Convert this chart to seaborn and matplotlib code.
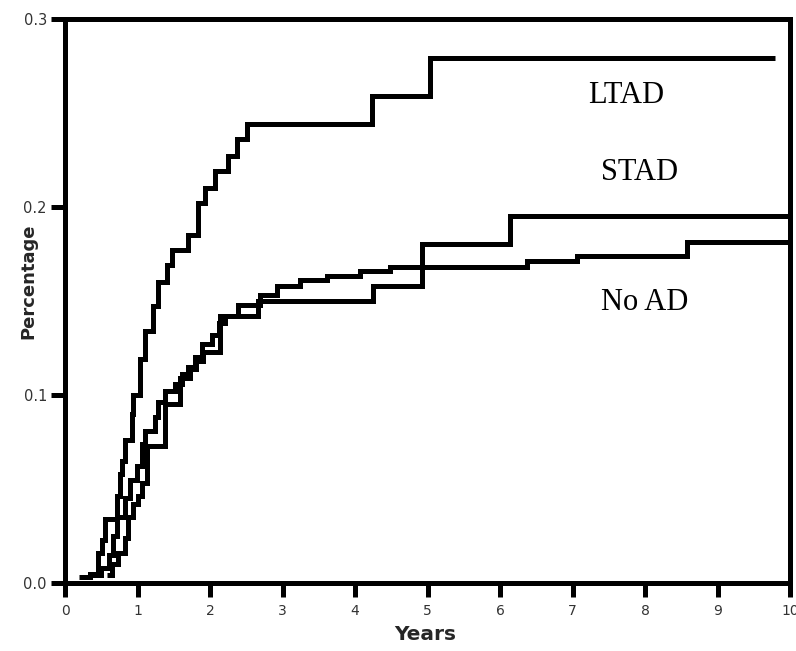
import matplotlib
matplotlib.use("Agg")
import matplotlib.pyplot as plt
import seaborn as sns
import pandas as pd

# ---- data ----
ltad_t = [0.19, 0.34, 0.46, 0.51, 0.55, 0.72, 0.76, 0.79, 0.83, 0.92, 0.94, 1.03, 1.10, 1.21, 1.28,
          1.41, 1.48, 1.70, 1.83, 1.93, 2.07, 2.25, 2.37, 2.51, 4.23, 5.03, 9.79]
ltad_p = [0.003, 0.005, 0.016, 0.023, 0.034, 0.046, 0.058, 0.065, 0.076, 0.090, 0.100, 0.119, 0.134,
          0.147, 0.160, 0.169, 0.177, 0.185, 0.202, 0.210, 0.219, 0.227, 0.236, 0.244, 0.259, 0.279, 0.279]

stad_t = [0.58, 0.65, 0.73, 0.83, 0.87, 0.94, 1.01, 1.06, 1.13, 1.38, 1.59, 1.72, 1.80, 1.90, 2.14,
          2.66, 4.25, 4.92, 6.14, 10.0]
stad_p = [0.004, 0.010, 0.016, 0.024, 0.035, 0.042, 0.046, 0.053, 0.073, 0.095, 0.109, 0.114, 0.118,
          0.123, 0.142, 0.150, 0.158, 0.180, 0.195, 0.195]

noad_t = [0.35, 0.50, 0.60, 0.66, 0.72, 0.83, 0.90, 0.99, 1.06, 1.10, 1.24, 1.28, 1.38, 1.52, 1.61,
          1.70, 1.79, 1.89, 2.03, 2.12, 2.20, 2.39, 2.69, 2.92, 3.24, 3.61, 4.07, 4.48, 6.37, 7.06,
          8.58, 10.0]
noad_p = [0.004, 0.008, 0.015, 0.025, 0.035, 0.045, 0.055, 0.062, 0.074, 0.081, 0.088, 0.096, 0.102,
          0.106, 0.111, 0.115, 0.120, 0.127, 0.132, 0.138, 0.142, 0.148, 0.153, 0.158, 0.161, 0.163,
          0.166, 0.168, 0.171, 0.174, 0.181, 0.181]

group_names = ["LTAD", "STAD", "No AD"]
label_x = [7.74, 7.93, 7.99]
label_y = [0.259, 0.218, 0.149]

x_ticks = list(range(0, 11))
y_ticks = [0.0, 0.1, 0.2, 0.3]
y_tick_labels = ["0.0", "0.1", "0.2", "0.3"]

df = pd.concat([
    pd.DataFrame({"group": "LTAD", "Years": ltad_t, "Percentage": ltad_p}),
    pd.DataFrame({"group": "STAD", "Years": stad_t, "Percentage": stad_p}),
    pd.DataFrame({"group": "No AD", "Years": noad_t, "Percentage": noad_p}),
], ignore_index=True)

sns.set_theme(style="ticks")
plt.rcParams["font.family"] = ["DejaVu Sans"]

fig = plt.figure(figsize=(7.96, 6.51), dpi=100)
ax = fig.add_axes([65 / 796, 1 - 583 / 651, 725 / 796, (583 - 18.6) / 651])

sns.lineplot(data=df, x="Years", y="Percentage", units="group", estimator=None,
             drawstyle="steps-post", color="black", linewidth=3.6, sort=False,
             solid_joinstyle="miter", solid_capstyle="butt", ax=ax)

ax.set_xlim(0, 10)
ax.set_ylim(0, 0.3)
ax.set_xticks(x_ticks)
ax.set_xticklabels([str(v) for v in x_ticks])
ax.set_yticks(y_ticks)
ax.set_yticklabels(y_tick_labels)

for s in ax.spines.values():
    s.set_visible(True)
    s.set_linewidth(3.6)
    s.set_color("black")

ax.tick_params(axis="both", direction="out", length=10, width=3.6, color="black",
               labelcolor="#333333")
ax.tick_params(axis="x", pad=5, labelsize=10)
ax.tick_params(axis="y", pad=3, labelsize=10.5)

ax.set_xlabel("Years", fontsize=14.5, fontweight="bold")
ax.set_ylabel("Percentage", fontsize=13, fontweight="bold")
ax.xaxis.set_label_coords(0.497, -0.074)
ax.yaxis.set_label_coords(-0.038, 0.535)

for name, tx, ty in zip(group_names, label_x, label_y):
    ax.text(tx, ty, name, ha="center", va="center", fontsize=22,
            family=["Liberation Serif", "DejaVu Serif"], color="black")

fig.savefig("out.png", dpi=100)
